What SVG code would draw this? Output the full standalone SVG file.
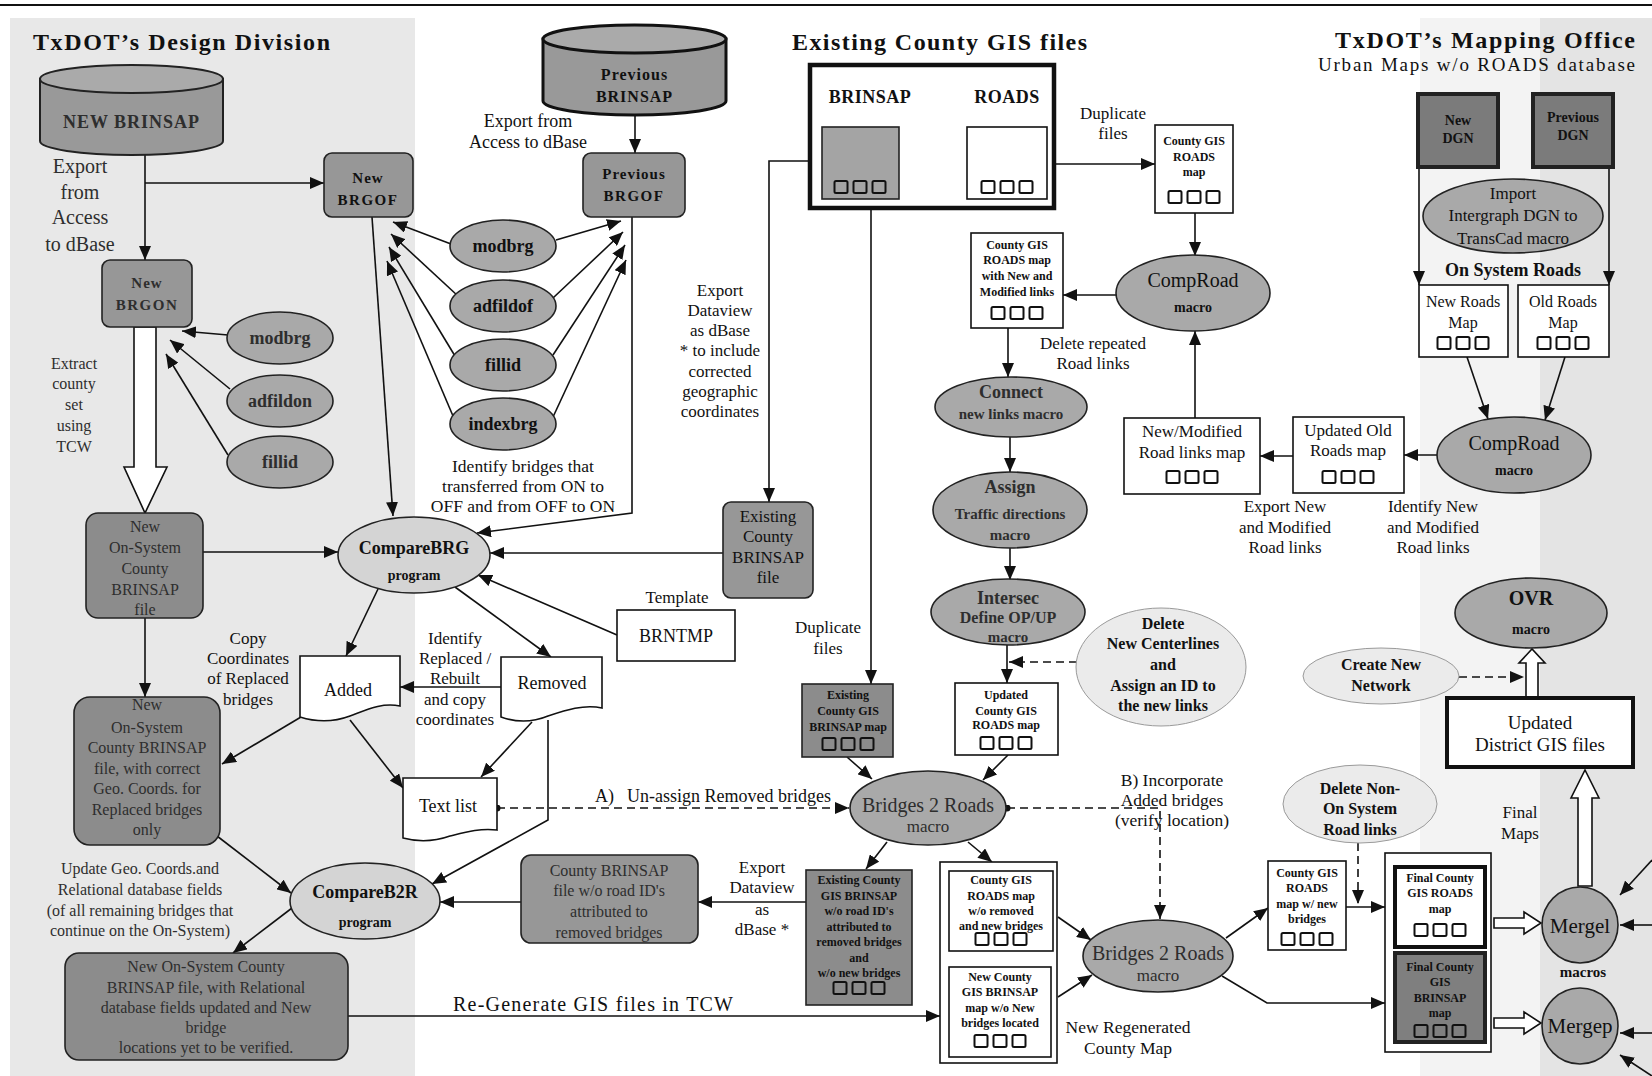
<svg xmlns="http://www.w3.org/2000/svg" xmlns:xlink="http://www.w3.org/1999/xlink" width="1652" height="1076" viewBox="0 0 1652 1076">
<defs>
<style>
.t{font-family:"Liberation Serif","Times New Roman",serif;fill:#111}
.b{font-weight:bold}
.c{text-anchor:middle}
.s12{font-size:12px}.s14{font-size:14px}.s15{font-size:15px}.s16{font-size:16px}.s17{font-size:17px}.s18{font-size:18px}.s20{font-size:20px}
.g{fill:#2e2e2e}
.box{fill:#fff;stroke:#111;stroke-width:1.6}
.thk{fill:#fff;stroke:#111;stroke-width:4}
.gbox{fill:#979797;stroke:#222;stroke-width:1.6}
.dbox{fill:#8c8c8c;stroke:#222;stroke-width:1.6}
.ell{fill:#a9a9a9;stroke:#222;stroke-width:1.6}
.lell{fill:#d4d4d4;stroke:#222;stroke-width:1.6}
.vell{fill:#ebebeb;stroke:#9a9a9a;stroke-width:1}
.ln{fill:none;stroke:#111;stroke-width:1.6}
.dash{stroke-dasharray:8 5}
.hol{fill:#fff;stroke:#111;stroke-width:1.6}
.sq rect{fill:none;stroke:#111;stroke-width:2}
</style>
<marker id="ah" viewBox="0 0 14 12" refX="14" refY="6" markerWidth="14" markerHeight="12" markerUnits="userSpaceOnUse" orient="auto"><path d="M0,0 L14,6 L0,12 z" fill="#111"/></marker>
<marker id="dot" viewBox="0 0 8 8" refX="4" refY="4" markerWidth="7" markerHeight="7" markerUnits="userSpaceOnUse"><circle cx="4" cy="4" r="4" fill="#111"/></marker>
<g id="sq3" class="sq"><rect x="0" y="0" width="13" height="12" rx="1.5"/><rect x="19" y="0" width="13" height="12" rx="1.5"/><rect x="38" y="0" width="13" height="12" rx="1.5"/></g>
</defs>

<g id="background">
<rect x="0" y="0" width="1652" height="1076" fill="#fff"/>
<rect x="10" y="18" width="405" height="1058" fill="#e8e8e8"/>
<rect x="1420" y="18" width="120" height="1058" fill="#f3f3f3"/>
<rect x="1540" y="18" width="112" height="1058" fill="#e4e4e4"/>
<path d="M0,5 H1652" stroke="#111" stroke-width="2"/>
</g>

<g id="connectors" class="ln">
<path d="M145,155 V260" marker-end="url(#ah)"/>
<path d="M145,183 H324" marker-end="url(#ah)"/>
<path d="M635,115 V153" marker-end="url(#ah)"/>
<path d="M451,244 L393,222" marker-end="url(#ah)"/>
<path d="M458,296 L391,234" marker-end="url(#ah)"/>
<path d="M455,356 L389,247" marker-end="url(#ah)"/>
<path d="M453,416 L387,261" marker-end="url(#ah)"/>
<path d="M556,240 L621,221" marker-end="url(#ah)"/>
<path d="M553,298 L623,232" marker-end="url(#ah)"/>
<path d="M553,355 L625,245" marker-end="url(#ah)"/>
<path d="M553,417 L626,260" marker-end="url(#ah)"/>
<path d="M372,217 L393,516" marker-end="url(#ah)"/>
<path d="M632,217 V513 L477,533" marker-end="url(#ah)"/>
<path d="M723,553 H490" marker-end="url(#ah)"/>
<path d="M617,635 L478,575" marker-end="url(#ah)"/>
<path d="M455,587 L551,657" marker-end="url(#ah)"/>
<path d="M378,589 L346,656" marker-end="url(#ah)"/>
<path d="M501,687 H400" marker-end="url(#ah)"/>
<path d="M301,717 L222,764" marker-end="url(#ah)"/>
<path d="M350,720 L403,788" marker-end="url(#ah)"/>
<path d="M532,722 L481,777" marker-end="url(#ah)"/>
<path d="M548,720 V820 L432,884" marker-end="url(#ah)"/>
<path class="dash" d="M497,808 H849" marker-start="url(#dot)" marker-end="url(#ah)"/>
<path class="dash" d="M1007,808 H1160 V919" marker-start="url(#dot)" marker-end="url(#ah)"/>
<path d="M822,161 H769 V502" marker-end="url(#ah)"/>
<path d="M871,199 V684" marker-end="url(#ah)"/>
<path d="M1047,164 H1155" marker-end="url(#ah)"/>
<path d="M1195,213 V256" marker-end="url(#ah)"/>
<path d="M1117,295 H1063" marker-end="url(#ah)"/>
<path d="M1008,328 V377" marker-end="url(#ah)"/>
<path d="M1010,437 V472" marker-end="url(#ah)"/>
<path d="M1010,548 V580" marker-end="url(#ah)"/>
<path d="M1007,645 V683" marker-end="url(#ah)"/>
<path class="dash" d="M1077,662 H1009" marker-end="url(#ah)"/>
<path d="M1195,418 V331" marker-end="url(#ah)"/>
<path d="M1293,456 H1260" marker-end="url(#ah)"/>
<path d="M1438,455 H1404" marker-end="url(#ah)"/>
<path d="M1467,357 L1488,419" marker-end="url(#ah)"/>
<path d="M1565,357 L1545,420" marker-end="url(#ah)"/>
<path d="M1419,167 V285" marker-end="url(#ah)"/>
<path d="M1609,167 V285" marker-end="url(#ah)"/>
<path class="dash" d="M1459,677 H1524" marker-end="url(#ah)"/>
<path d="M203,552 H338" marker-end="url(#ah)"/>
<path d="M145,618 V697" marker-end="url(#ah)"/>
<path d="M228,335 L182,331" marker-end="url(#ah)"/>
<path d="M230,389 L170,340" marker-end="url(#ah)"/>
<path d="M228,455 L166,354" marker-end="url(#ah)"/>
<path d="M217,836 L291,893" marker-end="url(#ah)"/>
<path d="M292,908 L233,953" marker-end="url(#ah)"/>
<path d="M521,902 H440" marker-end="url(#ah)"/>
<path d="M806,902 H698" marker-end="url(#ah)"/>
<path d="M348,1016 H940" marker-end="url(#ah)"/>
<path d="M847,757 L872,779" marker-end="url(#ah)"/>
<path d="M1008,755 L983,780" marker-end="url(#ah)"/>
<path d="M887,842 L866,869" marker-end="url(#ah)"/>
<path d="M968,842 L992,862" marker-end="url(#ah)"/>
<path d="M1058,917 L1091,940" marker-end="url(#ah)"/>
<path d="M1058,997 L1092,975" marker-end="url(#ah)"/>
<path d="M1226,938 L1268,908" marker-end="url(#ah)"/>
<path d="M1346,907 H1385" marker-end="url(#ah)"/>
<path class="dash" d="M1358,843 V904" marker-end="url(#ah)"/>
<path d="M1222,976 L1267,1003 H1385" marker-end="url(#ah)"/>
<path d="M1652,860 L1620,895" marker-end="url(#ah)"/>
<path d="M1652,925 H1620" marker-end="url(#ah)"/>
<path d="M1652,1033 H1620" marker-end="url(#ah)"/>
<path d="M1652,1076 L1620,1055" marker-end="url(#ah)"/>
<polygon class="hol" points="134,327 156,327 156,467 167,467 145,513 124,467 134,467"/>
<polygon class="hol" points="1526,698 1526,663 1519,663 1532,649 1545,663 1538,663 1538,698"/>
<polygon class="hol" points="1578,886 1578,798 1571,798 1585,770 1599,798 1592,798 1592,886"/>
<polygon class="hol" points="1494,918 1524,918 1524,912 1541,923 1524,934 1524,928 1494,928"/>
<polygon class="hol" points="1494,1018 1524,1018 1524,1012 1541,1023 1524,1034 1524,1028 1494,1028"/>
</g>

<g id="node-new-brinsap">
<path d="M40,79 V141 A91.5,14 0 0 0 223,141 V79 Z" fill="#999" stroke="#222" stroke-width="2"/>
<ellipse cx="131.5" cy="79" rx="91.5" ry="14" fill="#aaa" stroke="#222" stroke-width="2"/>
<text class="t b c s18 g" x="131.5" y="128" letter-spacing="1">NEW BRINSAP</text>
</g>
<g id="node-prev-brinsap">
<path d="M543,39 V101 A91.5,14 0 0 0 726,101 V39 Z" fill="#999" stroke="#111" stroke-width="3"/>
<ellipse cx="634.5" cy="39" rx="91.5" ry="14" fill="#aaa" stroke="#111" stroke-width="3"/>
<text class="t b c s16" x="634.5" y="80" letter-spacing="1">Previous</text>
<text class="t b c s16" x="634.5" y="102" letter-spacing="1">BRINSAP</text>
</g>
<g id="node-new-brgof"><rect class="gbox" x="324" y="153" width="89" height="64" rx="8"/>
<text class="t b c s15" x="368" y="183" letter-spacing="1">New</text><text class="t b c s15" x="368" y="205" letter-spacing="1.5">BRGOF</text></g>
<g id="node-new-brgon"><rect class="gbox" x="102" y="260" width="90" height="67" rx="8"/>
<text class="t b c s15 g" x="147" y="288" letter-spacing="1">New</text><text class="t b c s15 g" x="147" y="310" letter-spacing="1.5">BRGON</text></g>
<g id="node-prev-brgof"><rect class="gbox" x="583" y="153" width="102" height="64" rx="8"/>
<text class="t b c s15" x="634" y="179" letter-spacing="1">Previous</text><text class="t b c s15" x="634" y="201" letter-spacing="1.5">BRGOF</text></g>

<g id="node-modbrg-of"><ellipse class="ell" cx="503" cy="246" rx="53" ry="26"/><text class="t b c s18" x="503" y="252">modbrg</text></g>
<g id="node-adfildof"><ellipse class="ell" cx="503" cy="306" rx="53" ry="26"/><text class="t b c s18" x="503" y="312">adfildof</text></g>
<g id="node-fillid-of"><ellipse class="ell" cx="503" cy="365" rx="53" ry="26"/><text class="t b c s18" x="503" y="371">fillid</text></g>
<g id="node-indexbrg"><ellipse class="ell" cx="503" cy="424" rx="53" ry="26"/><text class="t b c s18" x="503" y="430">indexbrg</text></g>
<g id="node-modbrg-on"><ellipse class="ell" cx="280" cy="338" rx="53" ry="26"/><text class="t b c s18 g" x="280" y="344">modbrg</text></g>
<g id="node-adfildon"><ellipse class="ell" cx="280" cy="401" rx="53" ry="26"/><text class="t b c s18 g" x="280" y="407">adfildon</text></g>
<g id="node-fillid-on"><ellipse class="ell" cx="280" cy="462" rx="53" ry="26"/><text class="t b c s18 g" x="280" y="468">fillid</text></g>

<g id="node-onsys-file"><rect class="dbox" x="86" y="513" width="117" height="105" rx="12"/>
<text class="t c s16 g" x="145" y="532">New</text><text class="t c s16 g" x="145" y="553">On-System</text><text class="t c s16 g" x="145" y="574">County</text><text class="t c s16 g" x="145" y="595">BRINSAP</text><text class="t c s16 g" x="145" y="615">file</text></g>

<g id="node-comparebrg"><ellipse class="lell" cx="414" cy="555" rx="76" ry="38"/>
<text class="t b c s18" x="414" y="554">CompareBRG</text><text class="t b c s14" x="414" y="580">program</text></g>

<g id="node-existing-county-brinsap"><rect class="gbox" x="723" y="502" width="90" height="96" rx="8"/>
<text class="t c s17" x="768" y="522">Existing</text><text class="t c s17" x="768" y="542">County</text><text class="t c s17" x="768" y="563">BRINSAP</text><text class="t c s17" x="768" y="583">file</text></g>

<g id="node-brntmp"><rect class="box" x="617" y="610" width="118" height="51"/><text class="t c s18" x="676" y="642">BRNTMP</text></g>

<g id="node-added"><path class="box" d="M300,656 H400 V706 C382,702 366,710 350,716 C334,722 316,722 300,717 Z"/><text class="t c s18" x="348" y="696">Added</text></g>
<g id="node-removed"><path class="box" d="M501,657 H602 V708 C584,704 566,710 548,716 C531,723 515,722 501,717 Z"/><text class="t c s18" x="552" y="689">Removed</text></g>
<g id="node-textlist"><path class="box" d="M403,778 H497 V830 C480,828 466,832 450,836 C433,842 418,842 403,838 Z"/><text class="t c s18" x="448" y="812">Text list</text></g>

<g id="node-onsys-correct"><rect class="dbox" x="74" y="697" width="146" height="148" rx="16"/>
<text class="t c s16 g" x="147" y="710">New</text><text class="t c s16 g" x="147" y="733">On-System</text><text class="t c s16 g" x="147" y="753">County BRINSAP</text><text class="t c s16 g" x="147" y="774">file, with correct</text><text class="t c s16 g" x="147" y="794">Geo. Coords. for</text><text class="t c s16 g" x="147" y="815">Replaced bridges</text><text class="t c s16 g" x="147" y="835">only</text></g>

<g id="node-compareb2r"><ellipse class="lell" cx="365" cy="901" rx="75" ry="38"/>
<text class="t b c s18" x="365" y="898">CompareB2R</text><text class="t b c s14" x="365" y="927">program</text></g>

<g id="node-onsys-final"><rect class="dbox" x="65" y="953" width="283" height="107" rx="14"/>
<text class="t c s16 g" x="206" y="972">New On-System County</text><text class="t c s16 g" x="206" y="993">BRINSAP  file, with Relational</text><text class="t c s16 g" x="206" y="1013">database fields updated and New</text><text class="t c s16 g" x="206" y="1033">bridge</text><text class="t c s16 g" x="206" y="1053">locations yet to be verified.</text></g>

<g id="node-county-brinsap-wo"><rect class="gbox" x="521" y="855" width="177" height="88" rx="10"/>
<text class="t c s16 g" x="609" y="876">County BRINSAP</text><text class="t c s16 g" x="609" y="896">file w/o road ID's</text><text class="t c s16 g" x="609" y="917">attributed to</text><text class="t c s16 g" x="609" y="938">removed bridges</text></g>

<g id="node-existing-gis-files"><rect x="810" y="65" width="244" height="143" fill="#fff" stroke="#111" stroke-width="4.5"/>
<text class="t b c s18" x="870" y="103" letter-spacing="0.5">BRINSAP</text><text class="t b c s18" x="1007" y="103" letter-spacing="0.5">ROADS</text>
<rect x="822" y="127" width="77" height="72" fill="#a4a4a4" stroke="#222" stroke-width="1.6"/>
<rect x="967" y="127" width="80" height="72" class="box"/>
<use href="#sq3" x="834.5" y="181"/><use href="#sq3" x="981.5" y="181"/></g>

<g id="node-gis-roads-map"><rect class="box" x="1155" y="125" width="78" height="88"/>
<text class="t b c s12" x="1194" y="145">County GIS</text><text class="t b c s12" x="1194" y="161">ROADS</text><text class="t b c s12" x="1194" y="176">map</text><use href="#sq3" x="1168.5" y="191"/></g>

<g id="node-comproad1"><ellipse class="ell" cx="1193" cy="293" rx="77" ry="38"/>
<text class="t c s20" x="1193" y="287">CompRoad</text><text class="t b c s14" x="1193" y="312">macro</text></g>

<g id="node-gis-roads-newmod"><rect class="box" x="971" y="233" width="92" height="95"/>
<text class="t b c s12" x="1017" y="249">County GIS</text><text class="t b c s12" x="1017" y="264">ROADS map</text><text class="t b c s12" x="1017" y="280">with New and</text><text class="t b c s12" x="1017" y="296">Modified links</text><use href="#sq3" x="991.5" y="307"/></g>

<g id="node-connect"><ellipse class="ell" cx="1011" cy="407" rx="76" ry="30"/>
<text class="t b c s18 g" x="1011" y="398">Connect</text><text class="t b c s15 g" x="1011" y="419">new links macro</text></g>
<g id="node-assign"><ellipse class="ell" cx="1010" cy="510" rx="77" ry="38"/>
<text class="t b c s18 g" x="1010" y="493">Assign</text><text class="t b c s15 g" x="1010" y="519">Traffic directions</text><text class="t b c s15 g" x="1010" y="540">macro</text></g>
<g id="node-intersec"><ellipse class="ell" cx="1008" cy="612" rx="77" ry="33"/>
<text class="t b c s18 g" x="1008" y="604">Intersec</text><text class="t b c s16 g" x="1008" y="623">Define OP/UP</text><text class="t b c s15 g" x="1008" y="642">macro</text></g>

<g id="node-delete-centerlines"><ellipse class="vell" cx="1161" cy="667" rx="85" ry="59"/>
<text class="t b c s16" x="1163" y="629">Delete</text><text class="t b c s16" x="1163" y="649">New Centerlines</text><text class="t b c s16" x="1163" y="670">and</text><text class="t b c s16" x="1163" y="691">Assign an ID to</text><text class="t b c s16" x="1163" y="711">the new links</text></g>

<g id="node-existing-gis-brinsap-map"><rect class="dbox" x="802" y="684" width="91" height="73"/>
<text class="t b c s12" x="848" y="699">Existing</text><text class="t b c s12" x="848" y="715">County GIS</text><text class="t b c s12" x="848" y="731">BRINSAP map</text><use href="#sq3" x="822.5" y="738"/></g>

<g id="node-updated-gis-roads"><rect class="box" x="955" y="683" width="103" height="72"/>
<text class="t b c s12" x="1006" y="699">Updated</text><text class="t b c s12" x="1006" y="715">County GIS</text><text class="t b c s12" x="1006" y="729">ROADS map</text><use href="#sq3" x="980.5" y="737"/></g>

<g id="node-b2r1"><ellipse class="ell" cx="928" cy="808" rx="78" ry="37"/>
<text class="t c s20 g" x="928" y="812">Bridges 2 Roads</text><text class="t c s17 g" x="928" y="832">macro</text></g>

<g id="node-existing-gis-brinsap-wo"><rect class="dbox" x="806" y="870" width="106" height="135"/>
<text class="t b c s12" x="859" y="884">Existing County</text><text class="t b c s12" x="859" y="900">GIS BRINSAP</text><text class="t b c s12" x="859" y="915">w/o road ID's</text><text class="t b c s12" x="859" y="931">attributed to</text><text class="t b c s12" x="859" y="946">removed bridges</text><text class="t b c s12" x="859" y="962">and</text><text class="t b c s12" x="859" y="977">w/o new bridges</text><use href="#sq3" x="833.5" y="982"/></g>

<g id="node-regenerated-map"><rect class="box" x="940" y="862" width="117" height="201"/>
<rect class="box" x="949" y="871" width="104" height="80" stroke-width="2"/>
<text class="t b c s12" x="1001" y="884">County GIS</text><text class="t b c s12" x="1001" y="900">ROADS map</text><text class="t b c s12" x="1001" y="915">w/o removed</text><text class="t b c s12" x="1001" y="930">and new bridges</text><use href="#sq3" x="975.5" y="933"/>
<rect class="box" x="949" y="967" width="102" height="90" stroke-width="2"/>
<text class="t b c s12" x="1000" y="981">New County</text><text class="t b c s12" x="1000" y="996">GIS BRINSAP</text><text class="t b c s12" x="1000" y="1012">map w/o New</text><text class="t b c s12" x="1000" y="1027">bridges located</text><use href="#sq3" x="974.5" y="1035"/></g>

<g id="node-b2r2"><ellipse class="ell" cx="1158" cy="956" rx="75" ry="36"/>
<text class="t c s20 g" x="1158" y="960">Bridges 2 Roads</text><text class="t c s17 g" x="1158" y="981">macro</text></g>

<g id="node-new-dgn"><rect x="1418" y="94" width="80" height="73" fill="#7b7b7b" stroke="#222" stroke-width="4"/>
<text class="t b c s14" x="1458" y="125" fill="#3a3a3a">New</text><text class="t b c s14" x="1458" y="143" fill="#3a3a3a">DGN</text></g>
<g id="node-prev-dgn"><rect x="1533" y="94" width="80" height="73" fill="#7b7b7b" stroke="#222" stroke-width="4"/>
<text class="t b c s14" x="1573" y="122" fill="#3a3a3a">Previous</text><text class="t b c s14" x="1573" y="140" fill="#3a3a3a">DGN</text></g>

<g id="node-import"><ellipse class="ell" cx="1513" cy="216" rx="90" ry="37"/>
<text class="t c s17" x="1513" y="199">Import</text><text class="t c s17" x="1513" y="221">Intergraph DGN to</text><text class="t c s17" x="1513" y="244">TransCad macro</text></g>

<g id="node-new-roads-map"><rect class="box" x="1419" y="285" width="89" height="72"/>
<text class="t c s16" x="1463" y="307">New Roads</text><text class="t c s16" x="1463" y="328">Map</text><use href="#sq3" x="1437.5" y="337"/></g>
<g id="node-old-roads-map"><rect class="box" x="1518" y="285" width="91" height="72"/>
<text class="t c s16" x="1563" y="307">Old Roads</text><text class="t c s16" x="1563" y="328">Map</text><use href="#sq3" x="1537.5" y="337"/></g>

<g id="node-newmod-links"><rect class="box" x="1124" y="418" width="136" height="76"/>
<text class="t c s17" x="1192" y="437">New/Modified</text><text class="t c s17" x="1192" y="458">Road links map</text><use href="#sq3" x="1166.5" y="471"/></g>
<g id="node-updated-old"><rect class="box" x="1293" y="417" width="111" height="76"/>
<text class="t c s17" x="1348" y="436">Updated Old</text><text class="t c s17" x="1348" y="456">Roads map</text><use href="#sq3" x="1322.5" y="471"/></g>

<g id="node-comproad2"><ellipse class="ell" cx="1514" cy="455" rx="77" ry="38"/>
<text class="t c s20" x="1514" y="450">CompRoad</text><text class="t b c s14" x="1514" y="475">macro</text></g>

<g id="node-ovr"><ellipse class="ell" cx="1531" cy="613" rx="76" ry="35"/>
<text class="t b c s20" x="1531" y="605">OVR</text><text class="t b c s14" x="1531" y="634">macro</text></g>
<g id="node-create-network"><ellipse class="vell" cx="1381" cy="676" rx="78" ry="28"/>
<text class="t b c s16" x="1381" y="670">Create New</text><text class="t b c s16" x="1381" y="691">Network</text></g>
<g id="node-updated-district"><rect class="thk" x="1447" y="698" width="186" height="69"/>
<text class="t c" style="font-size:19px" x="1540" y="729">Updated</text><text class="t c" style="font-size:19px" x="1540" y="751">District GIS files</text></g>

<g id="node-delete-non"><ellipse class="vell" cx="1360" cy="804" rx="77" ry="39"/>
<text class="t b c s16" x="1360" y="794">Delete Non-</text><text class="t b c s16" x="1360" y="814">On System</text><text class="t b c s16" x="1360" y="835">Road links</text></g>

<g id="node-gis-roads-newbridges"><rect class="box" x="1268" y="861" width="78" height="89"/>
<text class="t b c s12" x="1307" y="877">County GIS</text><text class="t b c s12" x="1307" y="892">ROADS</text><text class="t b c s12" x="1307" y="908">map w/ new</text><text class="t b c s12" x="1307" y="923">bridges</text><use href="#sq3" x="1281.5" y="933"/></g>

<g id="node-final-maps"><rect class="box" x="1385" y="853" width="106" height="199"/>
<rect class="thk" x="1395" y="867" width="90" height="80"/>
<text class="t b c s12" x="1440" y="882">Final County</text><text class="t b c s12" x="1440" y="897">GIS ROADS</text><text class="t b c s12" x="1440" y="913">map</text><use href="#sq3" x="1414.5" y="924"/>
<rect x="1395" y="953" width="90" height="89" fill="#7f7f7f" stroke="#222" stroke-width="4"/>
<text class="t b c s12" x="1440" y="971" fill="#a8a8a8">Final County</text><text class="t b c s12" x="1440" y="986" fill="#a8a8a8">GIS</text><text class="t b c s12" x="1440" y="1002" fill="#a8a8a8">BRINSAP</text><text class="t b c s12" x="1440" y="1017" fill="#a8a8a8">map</text><use href="#sq3" x="1414.5" y="1025"/></g>

<g id="node-mergel"><circle class="ell" cx="1580" cy="925" r="38"/><text class="t c" style="font-size:21px" x="1580" y="933">Mergel</text></g>
<g id="node-mergep"><circle class="ell" cx="1580" cy="1026" r="38"/><text class="t c" style="font-size:21px" x="1580" y="1033">Mergep</text></g>

<g id="labels">
<text class="t b" style="font-size:24px" x="33" y="50" textLength="297" lengthAdjust="spacing">TxDOT’s Design Division</text>
<text class="t b" style="font-size:24px" x="792" y="50" textLength="295" lengthAdjust="spacing">Existing County GIS files</text>
<text class="t b" style="font-size:24px" x="1335" y="48" textLength="300" lengthAdjust="spacing">TxDOT’s Mapping Office</text>
<text class="t" style="font-size:19px" x="1318" y="71" textLength="317" lengthAdjust="spacing">Urban Maps w/o ROADS database</text>
<text class="t c g" style="font-size:20px" x="80" y="173">Export</text>
<text class="t c g" style="font-size:20px" x="80" y="199">from</text>
<text class="t c g" style="font-size:20px" x="80" y="224">Access</text>
<text class="t c g" style="font-size:20px" x="80" y="251">to dBase</text>
<text class="t c s18" x="528" y="127">Export from</text>
<text class="t c s18" x="528" y="148">Access to dBase</text>
<text class="t c s16 g" x="74" y="369">Extract</text>
<text class="t c s16 g" x="74" y="389">county</text>
<text class="t c s16 g" x="74" y="410">set</text>
<text class="t c s16 g" x="74" y="431">using</text>
<text class="t c s16 g" x="74" y="452">TCW</text>
<text class="t c s17" x="720" y="296">Export</text>
<text class="t c s17" x="720" y="316">Dataview</text>
<text class="t c s17" x="720" y="336">as dBase</text>
<text class="t c s17" x="720" y="356">* to include</text>
<text class="t c s17" x="720" y="377">corrected</text>
<text class="t c s17" x="720" y="397">geographic</text>
<text class="t c s17" x="720" y="417">coordinates</text>
<text class="t c" style="font-size:17.5px" x="523" y="472">Identify bridges that</text>
<text class="t c" style="font-size:17.5px" x="523" y="492">transferred from ON to</text>
<text class="t c" style="font-size:17.5px" x="523" y="512">OFF and from OFF to ON</text>
<text class="t c s17" x="677" y="603">Template</text>
<text class="t c s17" x="248" y="644">Copy</text>
<text class="t c s17" x="248" y="664">Coordinates</text>
<text class="t c s17" x="248" y="684">of Replaced</text>
<text class="t c s17" x="248" y="705">bridges</text>
<text class="t c s17" x="455" y="644">Identify</text>
<text class="t c s17" x="455" y="664">Replaced /</text>
<text class="t c s17" x="455" y="684">Rebuilt</text>
<text class="t c s17" x="455" y="705">and copy</text>
<text class="t c s17" x="455" y="725">coordinates</text>
<text class="t s18" x="595" y="802">A)</text>
<text class="t s18" x="627" y="802">Un-assign Removed bridges</text>
<text class="t c s17" x="828" y="633">Duplicate</text>
<text class="t c s17" x="828" y="654">files</text>
<text class="t c s17" x="1113" y="119">Duplicate</text>
<text class="t c s17" x="1113" y="139">files</text>
<text class="t c s17" x="1093" y="349">Delete repeated</text>
<text class="t c s17" x="1093" y="369">Road links</text>
<text class="t c" style="font-size:17.5px" x="1172" y="786">B) Incorporate</text>
<text class="t c" style="font-size:17.5px" x="1172" y="806">Added bridges</text>
<text class="t c" style="font-size:17.5px" x="1172" y="826">(verify location)</text>
<text class="t" style="font-size:20px" x="453" y="1011" textLength="280" lengthAdjust="spacing">Re-Generate  GIS files in TCW</text>
<text class="t c" style="font-size:17.5px" x="1128" y="1033">New Regenerated</text>
<text class="t c" style="font-size:17.5px" x="1128" y="1054">County Map</text>
<text class="t c s17" x="762" y="873">Export</text>
<text class="t c s17" x="762" y="893">Dataview</text>
<text class="t c s17" x="762" y="915">as</text>
<text class="t c s17" x="762" y="935">dBase *</text>
<text class="t c s16 g" x="140" y="874">Update Geo. Coords.and</text>
<text class="t c s16 g" x="140" y="895">Relational database fields</text>
<text class="t c s16 g" x="140" y="916">(of all remaining bridges that</text>
<text class="t c s16 g" x="140" y="936">continue on the On-System)</text>
<text class="t b c s18" x="1513" y="276">On System  Roads</text>
<text class="t c s17" x="1285" y="512">Export New</text>
<text class="t c s17" x="1285" y="533">and Modified</text>
<text class="t c s17" x="1285" y="553">Road links</text>
<text class="t c s17" x="1433" y="512">Identify New</text>
<text class="t c s17" x="1433" y="533">and Modified</text>
<text class="t c s17" x="1433" y="553">Road links</text>
<text class="t c s17" x="1520" y="818">Final</text>
<text class="t c s17" x="1520" y="839">Maps</text>
<text class="t b c s15" x="1583" y="977">macros</text>
</g>
</svg>
